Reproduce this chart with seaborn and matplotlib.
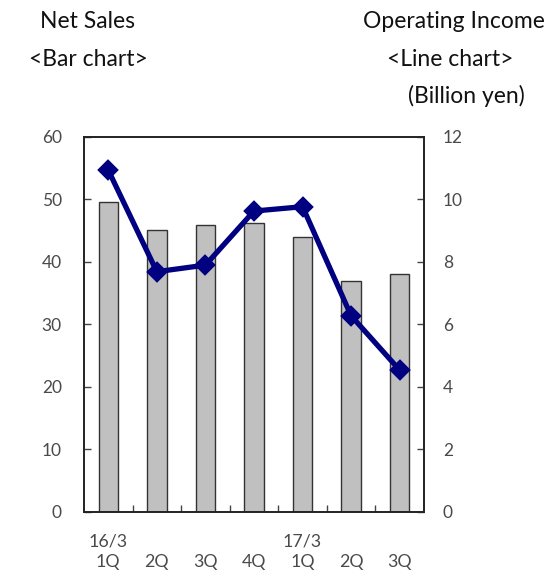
import matplotlib
matplotlib.use("Agg")
import matplotlib.pyplot as plt
import seaborn as sns
import pandas as pd
import numpy as np

# Quarterly results (billion yen)
quarters = ["16/3 1Q", "16/3 2Q", "16/3 3Q", "16/3 4Q", "17/3 1Q", "17/3 2Q", "17/3 3Q"]
tick_labels = ["16/3\n1Q", "\n2Q", "\n3Q", "\n4Q", "17/3\n1Q", "\n2Q", "\n3Q"]
net_sales = [49.6, 45.1, 45.8, 46.2, 43.9, 36.9, 38.0]
operating_income = [10.93, 7.68, 7.89, 9.62, 9.76, 6.27, 4.53]

sns.set_theme(style="white")
plt.rcParams["font.family"] = ["Lato", "DejaVu Sans"]

df = pd.DataFrame({"quarter": quarters, "sales": net_sales, "income": operating_income})

fig = plt.figure(figsize=(5.46, 5.70), dpi=100)
ax = fig.add_axes([0.1538, 0.1023, 0.6227, 0.6579])

sns.barplot(data=df, x="quarter", y="sales", order=quarters, color="#C0C0C0",
            saturation=1, width=0.4, edgecolor="#333333", linewidth=1.0, ax=ax)
for p in ax.patches:
    p.set_facecolor("#C0C0C0")

ax2 = ax.twinx()
sns.pointplot(data=df, x="quarter", y="income", order=quarters, color="#000080",
              markers="D", linestyles="-", linewidth=3.8, markersize=8.5, ax=ax2)

label_color = "#4a4a4a"
ax.set_xlim(-0.5, 6.5)
ax2.set_xlim(-0.5, 6.5)
ax.set_ylim(0, 60)
ax2.set_ylim(0, 12)
ax.set_yticks(np.arange(0, 61, 10))
ax2.set_yticks(np.arange(0, 13, 2))
ax.set_xticks(range(len(quarters)))
ax.set_xticklabels(tick_labels, fontsize=12.8, color=label_color, linespacing=1.35)
ax.set_xticks(np.arange(0.5, 6, 1), minor=True)
ax.tick_params(axis="x", which="major", length=0, pad=16)
ax.tick_params(axis="x", which="minor", direction="in", length=5, width=1, color="#444444", bottom=True)
ax.tick_params(axis="y", direction="in", length=5, width=1, color="#444444",
               labelsize=12.5, labelcolor=label_color, pad=16, left=True)
ax2.tick_params(axis="y", direction="in", length=5, width=1, color="#444444",
                labelsize=12.5, labelcolor=label_color, pad=13.5, right=True)
ax.set_xlabel("")
ax.set_ylabel("")
ax2.set_xlabel("")
ax2.set_ylabel("")

for a in (ax, ax2):
    for s in a.spines.values():
        s.set_visible(True)
        s.set_color("#222222")
        s.set_linewidth(1.2)

head = dict(ha="center", va="center", fontsize=16.5, color="#111111")
fig.text(88 / 546, 1 - 21 / 570, "Net Sales", **head)
fig.text(88 / 546, 1 - 59 / 570, "<Bar chart>", **head)
fig.text(454 / 546, 1 - 21 / 570, "Operating Income", **head)
fig.text(450 / 546, 1 - 59 / 570, "<Line chart>", **head)
fig.text(466 / 546, 1 - 96 / 570, "(Billion yen)", **head)

fig.savefig("out.png", dpi=100)
